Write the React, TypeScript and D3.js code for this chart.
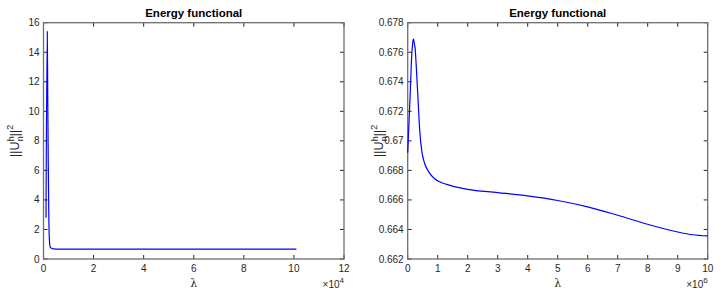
import React, { useRef, useEffect } from 'react'
import * as d3 from 'd3'

// left panel (x in units of 1e4)
const leftX = [0.1, 0.15, 0.17, 0.19, 0.21, 0.23, 0.26, 0.3, 0.4, 0.6, 1, 3, 6, 10.1]
const leftY = [2.8, 15.4, 11, 6.5, 3.2, 1.5, 0.85, 0.74, 0.69, 0.675, 0.67, 0.668, 0.667, 0.666]
const leftXTicks = [0, 2, 4, 6, 8, 10, 12]
const leftYTicks = [0, 2, 4, 6, 8, 10, 12, 14, 16]

// right panel (x in units of 1e6)
const rightX = [0, 0.04, 0.08, 0.12, 0.16, 0.19, 0.22, 0.25, 0.28, 0.34, 0.4, 0.47, 0.56, 0.7, 0.93, 1.3, 2, 3, 4, 5, 6, 7, 8, 9, 9.5, 10]
const rightY = [0.6692, 0.6711, 0.673, 0.6752, 0.6765, 0.6769, 0.6766, 0.6762, 0.67525, 0.67298, 0.67073, 0.6693, 0.6685, 0.6679, 0.66738, 0.66705, 0.66672, 0.6665, 0.66627, 0.66596, 0.66553, 0.66496, 0.66435, 0.66383, 0.66364, 0.66356]
const rightXTicks = [0, 1, 2, 3, 4, 5, 6, 7, 8, 9, 10]
const rightYTicks = [0.662, 0.664, 0.666, 0.668, 0.67, 0.672, 0.674, 0.676, 0.678]

const FONT = '"Liberation Sans", Arial, Helvetica, sans-serif'

export default function App() {
  const ref = useRef<SVGSVGElement | null>(null)

  useEffect(() => {
    const el = ref.current
    if (!el) return
    const svg = d3.select(el)
    svg.selectAll('*').remove()

    const top = 22.7
    const bottom = 259

    const panel = (
      x0: number, x1: number,
      xDomain: [number, number], yDomain: [number, number],
      xs: number[], ys: number[],
      xTicks: number[], yTicks: number[],
      exp: string
    ) => {
      const x = d3.scaleLinear().domain(xDomain).range([x0, x1])
      const y = d3.scaleLinear().domain(yDomain).range([bottom, top])
      const g = svg.append('g')
      const tl = 4

      // ticks (inward, all four sides)
      xTicks.forEach(t => {
        g.append('line').attr('x1', x(t)).attr('x2', x(t)).attr('y1', bottom).attr('y2', bottom - tl)
          .attr('stroke', '#262626').attr('stroke-width', 1)
        g.append('line').attr('x1', x(t)).attr('x2', x(t)).attr('y1', top).attr('y2', top + tl)
          .attr('stroke', '#262626').attr('stroke-width', 1)
        g.append('text').attr('x', x(t)).attr('y', bottom + 13).attr('text-anchor', 'middle')
          .attr('font-size', 10).attr('font-family', FONT).attr('fill', '#262626').text(String(t))
      })
      yTicks.forEach(t => {
        g.append('line').attr('x1', x0).attr('x2', x0 + tl).attr('y1', y(t)).attr('y2', y(t))
          .attr('stroke', '#262626').attr('stroke-width', 1)
        g.append('line').attr('x1', x1).attr('x2', x1 - tl).attr('y1', y(t)).attr('y2', y(t))
          .attr('stroke', '#262626').attr('stroke-width', 1)
        g.append('text').attr('x', x0 - 4).attr('y', y(t) + 3.5).attr('text-anchor', 'end')
          .attr('font-size', 10).attr('font-family', FONT).attr('fill', '#262626')
          .text(String(+t.toFixed(3)))
      })

      // box
      g.append('rect').attr('x', x0).attr('y', top).attr('width', x1 - x0).attr('height', bottom - top)
        .attr('fill', 'none').attr('stroke', '#6e6e6e').attr('stroke-width', 1.3)

      const line = d3.line<number>().x((_, i) => x(xs[i])).y(d => y(d)).curve(d3.curveMonotoneX)
      g.append('path').datum(ys).attr('fill', 'none').attr('stroke', '#0000ff')
        .attr('stroke-width', 1.2).attr('d', line)

      // title
      const cx = (x0 + x1) / 2
      g.append('text').attr('x', cx).attr('y', 17).attr('text-anchor', 'middle')
        .attr('font-size', 11.5).attr('font-weight', 'bold').attr('font-family', FONT)
        .attr('fill', '#000').text('Energy functional')

      // x label
      g.append('text').attr('x', cx).attr('y', 287).attr('text-anchor', 'middle')
        .attr('font-size', 11).attr('font-family', 'DejaVu Serif, serif').attr('fill', '#262626').text('λ')

      // exponent
      const ex = g.append('text').attr('x', x1).attr('y', 288).attr('text-anchor', 'end')
        .attr('font-size', 10).attr('font-family', FONT).attr('fill', '#262626')
      ex.append('tspan').text('×10')
      ex.append('tspan').attr('dy', -5).attr('font-size', 8).text(exp)

      // y label
      const yl = g.append('text').attr('transform', `translate(${x0 - 25},${(top + bottom) / 2}) rotate(-90)`)
        .attr('text-anchor', 'middle').attr('font-size', 12.5).attr('font-family', FONT).attr('fill', '#262626')
      yl.append('tspan').text('||U')
      yl.append('tspan').attr('font-size', 9).attr('dy', -5).text('h')
      yl.append('tspan').attr('font-size', 9).attr('dx', -5).attr('dy', 9).text('n')
      yl.append('tspan').attr('dy', -4).text('||')
      yl.append('tspan').attr('font-size', 9).attr('dy', -6).text('2')
    }

    panel(43.5, 344, [0, 12], [0, 16], leftX, leftY, leftXTicks, leftYTicks, '4')
    panel(407.7, 707.7, [0, 10], [0.662, 0.678], rightX, rightY, rightXTicks, rightYTicks, '6')
  }, [])

  return (
    <svg ref={ref} width={722} height={297}
      style={{ position: 'absolute', left: 0, top: 0, background: '#fff' }} />
  )
}
